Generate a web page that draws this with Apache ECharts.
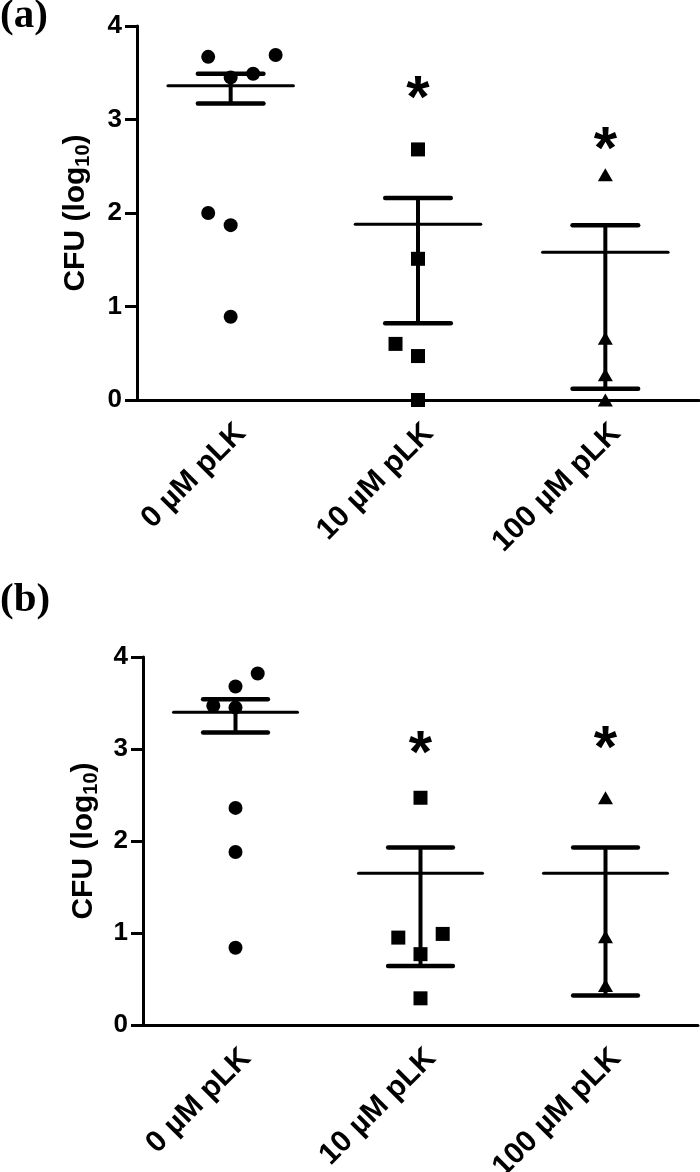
<!DOCTYPE html>
<html><head><meta charset="utf-8">
<script src="https://cdn.jsdelivr.net/npm/echarts@6/dist/echarts.min.js"></script>
<style>html,body{margin:0;padding:0;background:#fff}#c{width:700px;height:1172px}</style>
</head><body><div id="c"></div>
<script>
// ---------- data ----------
const categories = ['0 µM pLK', '10 µM pLK', '100 µM pLK'];
const yMin = 0, yMax = 4, yStep = 1;

// panel (a)
const aCircleVals = [3.67, 3.69, 3.45, 3.49, 2.00, 1.87, 0.89];
const aCircleJit  = [-0.12, 0.24, 0, 0.12, -0.12, 0, 0];
const aSquareVals = [2.68, 1.51, 0.60, 0.47, 0];
const aSquareJit  = [0, 0, -0.12, 0, 0];
const aTriVals    = [2.41, 0.66, 0.27, 0];
const aTriJit     = [0, 0, 0, 0];
const aMean  = [3.36, 1.88, 1.58];
const aLower = [3.17, 0.82, 0.12];
const aUpper = [3.49, 2.16, 1.87];
const aStar  = [null, 3.34, 2.80];

// panel (b)
const bCircleVals = [3.82, 3.68, 3.47, 3.45, 2.36, 1.88, 0.84];
const bCircleJit  = [0.12, 0, -0.12, 0, 0, 0, 0];
const bSquareVals = [2.47, 0.95, 0.99, 0.77, 0.29];
const bSquareJit  = [0, -0.12, 0.12, 0, 0];
const bTriVals    = [2.47, 0.96, 0.43];
const bTriJit     = [0, 0, 0];
const bMean  = [3.40, 1.65, 1.65];
const bLower = [3.18, 0.64, 0.32];
const bUpper = [3.54, 1.93, 1.93];
const bStar  = [null, 3.07, 3.13];

// ---------- styles ----------
const MEAN_HALF = 0.335, CAP_HALF = 0.175;
const FONT = 'Liberation Sans';
const STAR_SIZE = 60;

function errRender(params, api) {
  const i = api.value(0), m = api.value(1), lo = api.value(2), hi = api.value(3);
  const pm = api.coord([i, m]), pl = api.coord([i, lo]), ph = api.coord([i, hi]);
  const mw = api.coord([i + MEAN_HALF, m])[0] - pm[0];
  const cw = api.coord([i + CAP_HALF, m])[0] - pm[0];
  const st = (w) => ({ stroke: '#000', lineWidth: w, lineCap: 'round' });
  return { type: 'group', children: [
    { type: 'line', shape: { x1: pl[0], y1: pl[1], x2: ph[0], y2: ph[1] }, style: { stroke: '#000', lineWidth: 4 } },
    { type: 'line', shape: { x1: pm[0] - mw, y1: pm[1], x2: pm[0] + mw, y2: pm[1] }, style: st(3) },
    { type: 'line', shape: { x1: pl[0] - cw, y1: pl[1], x2: pl[0] + cw, y2: pl[1] }, style: st(4.5) },
    { type: 'line', shape: { x1: ph[0] - cw, y1: ph[1], x2: ph[0] + cw, y2: ph[1] }, style: st(4.5) }
  ]};
}
function starRender(params, api) {
  const p = api.coord([api.value(0), api.value(1)]);
  return { type: 'text', x: p[0], y: p[1] + STAR_SIZE * 0.22, style: {
    text: '*', fontSize: STAR_SIZE, fontFamily: FONT, fontWeight: 'bold', fill: '#000',
    align: 'center', verticalAlign: 'middle' } };
}

const pts = (vals, jit, idx) => vals.map((v, k) => [idx + jit[k], v]);
const errData = (mean, lo, hi) => mean.map((m, i) => [i, m, lo[i], hi[i]]);
const starData = (s) => s.map((v, i) => v == null ? null : [i, v]).filter(d => d);

function xAxes(g) {
  return [
    { type: 'category', gridIndex: g, data: categories,
      axisLine: { onZero: false, lineStyle: { color: '#000', width: 3 } },
      axisTick: { alignWithLabel: true, length: 12, lineStyle: { color: '#000', width: 3 } },
      axisLabel: { rotate: 45, fontSize: 30, fontWeight: 'bold', color: '#000', fontFamily: FONT,
        margin: 18, verticalAlign: 'top' },
      splitLine: { show: false } },
    { type: 'value', gridIndex: g, min: -0.5, max: 2.5, show: false }
  ];
}
function yAxis(g, gap) {
  return { type: 'value', gridIndex: g, min: yMin, max: yMax, interval: yStep,
    axisLine: { show: true, onZero: false, lineStyle: { color: '#000', width: 3 } },
    axisTick: { show: true, length: 12, lineStyle: { color: '#000', width: 3 } },
    axisLabel: { fontSize: 26, fontWeight: 'bold', color: '#000', fontFamily: FONT, margin: 15 },
    splitLine: { show: false },
    name: '{a|CFU (log}{s|10}{a|)}', nameLocation: 'middle', nameGap: gap, nameRotate: 90,
    nameTextStyle: { color: '#000', rich: {
      a: { fontSize: 30, fontWeight: 'bold', fontFamily: FONT, color: '#000', lineHeight: 32, verticalAlign: 'top' },
      s: { fontSize: 20, fontWeight: 'bold', fontFamily: FONT, color: '#000', lineHeight: 21, padding: [13, 0, 0, 0], verticalAlign: 'bottom' }
    } } };
}
function panelSeries(xi, yi, circ, cj, sq, sj, tri, tj, mean, lo, hi, star) {
  const base = { xAxisIndex: xi, yAxisIndex: yi };
  const sc = (data, symbol, size) => Object.assign({ type: 'scatter', data, symbol, symbolSize: size,
    itemStyle: { color: '#000', opacity: 1 }, clip: false, z: 5, silent: true }, base);
  return [
    Object.assign({ type: 'custom', renderItem: errRender, data: errData(mean, lo, hi), z: 3, silent: true }, base),
    sc(pts(circ, cj, 0), 'circle', 14),
    sc(pts(sq, sj, 1), 'rect', 14),
    sc(pts(tri, tj, 2), 'triangle', [15, 13]),
    Object.assign({ type: 'custom', renderItem: starRender, data: starData(star), z: 6, silent: true }, base)
  ];
}

const chart = echarts.init(document.getElementById('c'), null, { renderer: 'canvas' });
chart.setOption({
  animation: false,
  backgroundColor: '#fff',
  title: [
    { text: '(a)', left: 0, top: -4, padding: 0, textStyle: { fontFamily: 'Liberation Serif', fontWeight: 'bold', fontSize: 41, color: '#000' } },
    { text: '(b)', left: 0, top: 580, padding: 0, textStyle: { fontFamily: 'Liberation Serif', fontWeight: 'bold', fontSize: 41, color: '#000' } }
  ],
  grid: [
    { left: 137, top: 26, width: 562, height: 374, containLabel: false, outerBoundsMode: 'none' },
    { left: 143, top: 657, width: 555, height: 368, containLabel: false, outerBoundsMode: 'none' }
  ],
  xAxis: [...xAxes(0), ...xAxes(1)],
  yAxis: [yAxis(0, 44), yAxis(1, 42)],
  series: [
    ...panelSeries(1, 0, aCircleVals, aCircleJit, aSquareVals, aSquareJit, aTriVals, aTriJit, aMean, aLower, aUpper, aStar),
    ...panelSeries(3, 1, bCircleVals, bCircleJit, bSquareVals, bSquareJit, bTriVals, bTriJit, bMean, bLower, bUpper, bStar)
  ]
});
</script>
</body></html>
